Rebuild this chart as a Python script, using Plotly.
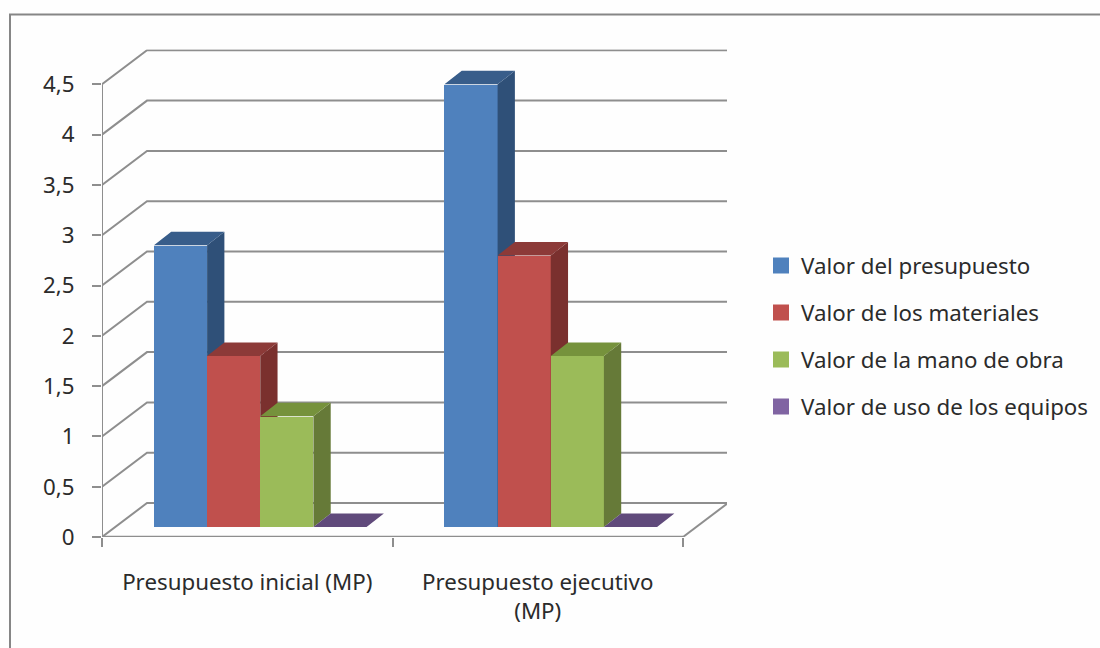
import plotly.graph_objects as go

categories = ["Presupuesto inicial (MP)", "Presupuesto ejecutivo<br>(MP)"]
series_names = ["Valor del presupuesto", "Valor de los materiales",
                "Valor de la mano de obra", "Valor de uso de los equipos"]
presupuesto = [2.8, 4.4]
materiales = [1.7, 2.7]
mano_obra = [1.1, 1.7]
equipos = [0, 0]
y_ticks = [0, 0.5, 1, 1.5, 2, 2.5, 3, 3.5, 4, 4.5]
y_labels = ["0", "0,5", "1", "1,5", "2", "2,5", "3", "3,5", "4", "4,5"]
front = ["#4F81BD", "#C0504D", "#9BBB59", "#8064A2"]
top = ["#385D8A", "#8C3A38", "#76923C", "#604A7B"]
side = ["#2F5078", "#7A302E", "#667A38", "#52406A"]

W, H = 1100, 648
FONT = "Noto Sans"
FS = 22.3
TXT = "#2b2b2b"
GRID = "#8e8e8e"
# pixel geometry of the pseudo-3D box
X0, XCAT, Y0, YUNIT = 102, 290.5, 537, 100.6
BOX_DX, BOX_DY = 45, 34          # wall depth in px
BAR_SHIFT_X, BAR_SHIFT_Y = 13, 10  # bars stand inside the floor
BAR_DX, BAR_DY = 17.3, 13.5       # bar depth in px
xmax = (727 - X0) / XCAT
ymax = (Y0 - 49.5) / YUNIT
xr, yr = [0, xmax], [0, ymax]
bdx, bdy = BOX_DX / XCAT, BOX_DY / YUNIT
fdx, fdy = BAR_DX / XCAT, BAR_DY / YUNIT
cx = [0.5, 1.5]
bw = (1 - 0.268) / 4

fig = go.Figure()
all_vals = [presupuesto, materiales, mano_obra, equipos]

for i, vals in enumerate(all_vals):
    n = i + 2
    xa, ya = f"x{n}", f"y{n}"
    off = -2 * bw + i * bw
    fig.add_trace(go.Bar(x=cx, y=vals, width=bw, offset=off, marker=dict(color=front[i], line=dict(width=0)),
                         xaxis=xa, yaxis=ya, showlegend=False, legendgroup=series_names[i], name=series_names[i]))
    sx, sy, tx, ty = [], [], [], []
    for c, v in zip(cx, vals):
        l, r = c + off, c + off + bw
        sx += [r, r + fdx, r + fdx, r, r, None]
        sy += [0, fdy, v + fdy, v, 0, None]
        tx += [l, l + fdx, r + fdx, r, l, None]
        ty += [v, v + fdy, v + fdy, v, v, None]
    for px, py, col in ((sx, sy, side[i]), (tx, ty, top[i])):
        fig.add_trace(go.Scatter(x=px, y=py, mode="lines", fill="toself", fillcolor=col,
                                 line=dict(width=0, color=col), hoverinfo="skip",
                                 xaxis=xa, yaxis=ya, showlegend=False, legendgroup=series_names[i]))
    # legend swatch
    fig.add_trace(go.Scatter(x=[None], y=[None], mode="markers", name=series_names[i],
                             marker=dict(symbol="square", size=16, color=front[i]),
                             xaxis=xa, yaxis=ya, legendgroup=series_names[i]))

shapes = [dict(type="path", xref="paper", yref="paper", layer="below",
               path=f"M {10/W} 0 L {10/W} {1-14.5/H} L 1 {1-14.5/H}",
               line=dict(color="#868686", width=2))]
for v in y_ticks:
    shapes.append(dict(type="path", xref="x", yref="y", layer="below",
                       path=f"M 0 {v} L {bdx} {v+bdy} L {2+bdx} {v+bdy}",
                       line=dict(color=GRID, width=2)))
shapes += [
    dict(type="line", xref="x", yref="y", x0=0, x1=0, y0=0, y1=y_ticks[-1], layer="below", line=dict(color=GRID, width=2)),
    dict(type="line", xref="x", yref="y", x0=0, x1=2, y0=0, y1=0, layer="below", line=dict(color=GRID, width=2.5)),
    dict(type="line", xref="x", yref="y", x0=2, x1=2 + bdx, y0=0, y1=bdy, layer="below", line=dict(color=GRID, width=2)),
]

dom_x = [X0 / W, (X0 + xmax * XCAT) / W]
dom_y = [1 - Y0 / H, 1 - (Y0 - ymax * YUNIT) / H]
layout = dict(
    width=W, height=H, margin=dict(l=0, r=0, t=0, b=0), autosize=False,
    paper_bgcolor="#fefefe", plot_bgcolor="rgba(0,0,0,0)",
    font=dict(family=FONT, size=FS, color=TXT), shapes=shapes,
    separators=", ", bargap=0,
    xaxis=dict(domain=dom_x, range=xr, tickmode="array", tickvals=cx, ticktext=categories, automargin=False,
               ticks="", showgrid=False, zeroline=False, showline=False, ticklabelstandoff=30,
               minor=dict(tickmode="array", tickvals=[0, 1, 2], ticks="outside", ticklen=9, tickwidth=2,
                          tickcolor=GRID, showgrid=False)),
    yaxis=dict(domain=dom_y, range=yr, tickmode="array", tickvals=y_ticks, ticktext=y_labels, automargin=False,
               ticks="outside", ticklen=9, tickwidth=2, tickcolor=GRID, showgrid=False,
               zeroline=False, showline=False, ticklabelstandoff=13),
    legend=dict(x=761 / W, xanchor="left", y=1 - 336 / H, yanchor="middle", tracegroupgap=15,
                font=dict(size=FS, color=TXT), bgcolor="rgba(0,0,0,0)", traceorder="grouped",
                itemclick=False, itemdoubleclick=False),
)
sx0 = (X0 + BAR_SHIFT_X) / W
sx1 = (X0 + BAR_SHIFT_X + xmax * XCAT) / W
sy0 = 1 - (Y0 - BAR_SHIFT_Y) / H
sy1 = 1 - (Y0 - BAR_SHIFT_Y - ymax * YUNIT) / H
for n in range(2, 6):
    layout[f"xaxis{n}"] = dict(domain=[sx0, sx1], range=xr, visible=False, anchor=f"y{n}", automargin=False)
    layout[f"yaxis{n}"] = dict(domain=[sy0, min(sy1, 1)], range=yr, visible=False, anchor=f"x{n}", automargin=False)
fig.update_layout(**layout)
fig.add_trace(go.Scatter(x=[None], y=[None], xaxis="x", yaxis="y", showlegend=False, hoverinfo="skip"))
fig.write_html("out.html", config=dict(displayModeBar=False),
               post_script="document.body.style.margin='0';document.body.style.overflow='hidden';")
